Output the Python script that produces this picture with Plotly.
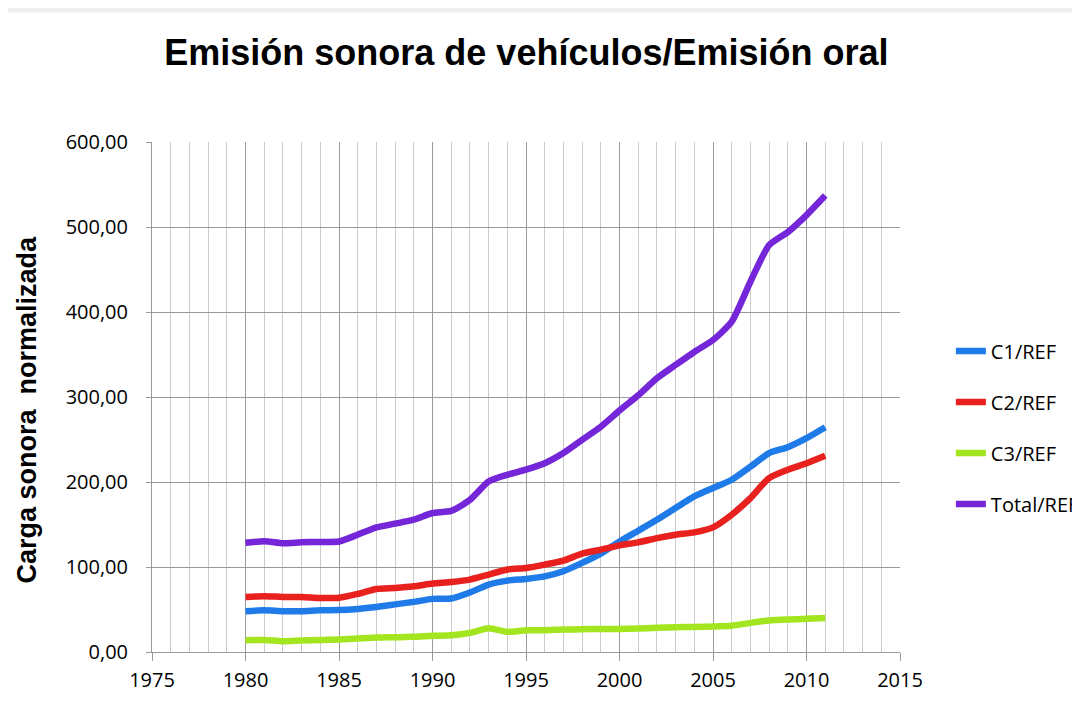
import plotly.graph_objects as go

years = list(range(1980, 2012))

c1_ref = [48, 49, 48, 48, 49, 49.3, 50.7, 53, 56, 59, 62.5, 63, 70, 79.3, 84,
          86, 89, 95, 104.8, 115.7, 130, 142.7, 155.6, 169.4, 183, 192.9, 202.6,
          218, 234, 241, 251.6, 264.5]
c2_ref = [64.8, 65.6, 64.8, 64.8, 63.6, 63.8, 68.3, 74.2, 75.4, 77.3, 80.5, 82.4,
          85.2, 91, 97, 98.9, 102.8, 107.5, 115.7, 120.4, 125.5, 129, 134, 138,
          140.7, 146.6, 161.5, 181, 204.6, 214.4, 222, 230.8]
c3_ref = [13.9, 14, 12.7, 13.5, 14, 14.7, 15.9, 17, 17.4, 17.8, 19, 19.7, 22.5, 28,
          23.7, 25.6, 25.6, 26.4, 26.8, 27.2, 27.2, 27.6, 28.4, 29.2, 29.5, 30, 31,
          34.3, 37, 38.2, 39, 40]
total_ref = [128.5, 130.2, 128, 129, 129.5, 130, 138, 146.6, 151, 155.6, 163.5, 166,
             179, 200.6, 208.5, 214.5, 222, 234, 249.6, 265, 284, 302, 322, 337.7,
             353, 367, 388.6, 435.6, 478.7, 494, 514, 537]

series_names = ["C1/REF", "C2/REF", "C3/REF", "Total/REF"]
series_values = [c1_ref, c2_ref, c3_ref, total_ref]
series_colors = ["#1f7be8", "#e8201e", "#a3e620", "#7426d8"]

title_text = "Emisión sonora de vehículos/Emisión oral"
y_title_text = "Carga sonora  normalizada"

tick_font = dict(family="Open Sans, sans-serif", size=20, color="black")

fig = go.Figure()
for i, (name, vals, col) in enumerate(zip(series_names, series_values, series_colors)):
    fig.add_trace(go.Scatter(
        x=years, y=vals, name=name, mode="lines",
        line=dict(color=col, width=6.5, shape="spline", smoothing=0.6),
        legendgroup=f"g{i}",
    ))

fig.update_layout(
    width=1080, height=713,
    margin=dict(l=144, r=188, t=134, b=68.5, autoexpand=False),
    paper_bgcolor="white", plot_bgcolor="white",
    separators=",.",
    title=dict(
        text=f"<b>{title_text}</b>",
        x=0.48, xanchor="center", y=0.938, yanchor="middle",
        font=dict(family="Liberation Sans, Arial, sans-serif", size=36, color="black"),
    ),
    xaxis=dict(
        range=[1975, 2015], dtick=5, tick0=1975,
        showgrid=True, gridcolor="#9a9a9a", gridwidth=1,
        minor=dict(dtick=1, showgrid=True, gridcolor="#cccccc", gridwidth=1),
        ticks="outside", ticklen=8, tickcolor="#9a9a9a",
        ticklabelstandoff=2,
        showline=True, linecolor="#9a9a9a", linewidth=1,
        tickfont=tick_font,
        zeroline=False,
    ),
    yaxis=dict(
        range=[0, 600], dtick=100, tickformat=".2f",
        showgrid=True, gridcolor="#9a9a9a", gridwidth=1,
        ticks="outside", ticklen=5, tickcolor="#9a9a9a",
        ticklabelstandoff=14,
        showline=True, linecolor="#9a9a9a", linewidth=1,
        tickfont=tick_font,
        zeroline=False,
    ),
    legend=dict(
        x=1.068, xanchor="left", y=0.44, yanchor="middle",
        font=dict(family="Open Sans, sans-serif", size=20, color="black"),
        tracegroupgap=22,
        bgcolor="rgba(0,0,0,0)",
    ),
    showlegend=True,
)

fig.add_annotation(
    text=f"<b>{y_title_text}</b>", textangle=-90,
    xref="paper", yref="paper", x=-0.1658, y=0.4755,
    xanchor="center", yanchor="middle", showarrow=False,
    font=dict(family="Liberation Sans, Arial, sans-serif", size=27, color="black"),
)

# light shading at the top edge of the screenshot frame
fig.add_shape(type="rect", xref="paper", yref="paper",
              x0=-0.25, x1=1.3, y0=1.254, y1=1.27, fillcolor="#efefef",
              line=dict(width=0), layer="below")

fig.write_html("out.html")
